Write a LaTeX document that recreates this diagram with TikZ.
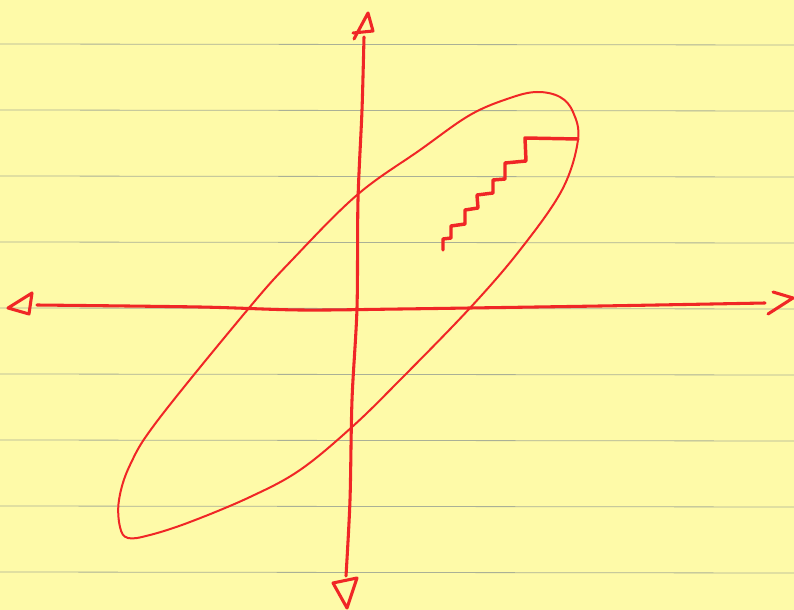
\documentclass[tikz,border=0pt]{standalone}
\definecolor{padyellow}{RGB}{254,250,168}
\definecolor{penred}{RGB}{240,38,38}
\definecolor{ruleline}{RGB}{170,176,150}
\begin{document}
\begin{tikzpicture}[x=0.75pt, y=-0.75pt,
	pen/.style={draw=penred, line cap=round, line join=round},
	axisline/.style={pen, line width=2.3pt},
	loopline/.style={pen, line width=1.5pt},
	stairline/.style={pen, line width=2.6pt},
	ruled/.style={draw=ruleline, line width=0.6pt}]
	\fill[padyellow] (0,0) rectangle (794,610);
	\useasboundingbox (0,0) rectangle (794,610);
	% ruled paper
	\foreach \y in {44,110,...,572} \draw[ruled] (0,\y) -- (794,\y+1);
	% horizontal axis with heads
	\draw[axisline] plot[smooth] coordinates {(37,305) (200,307) (300,310) (400,309) (600,306) (765,303)};
	\draw[axisline] (32,293) -- (8,308) -- (29,314) -- cycle;
	\draw[axisline] (773,292) -- (793,298) -- (768,314);
	% vertical axis with heads
	\draw[axisline] plot[smooth] coordinates {(364,37) (362,110) (358,200) (357,308) (352,400) (350,500) (346,576)};
	\draw[axisline] (354,39) -- (368,13) -- (373,31) -- (353,33);
	\draw[axisline] (333,583) -- (357,578) -- (347,608) -- cycle;
	% loop
	\draw[loopline] plot[smooth cycle, tension=0.6] coordinates {(537,92) (560,97) (573,112) (578,140) (562,190) (520,250) (470,308) (400,380) (352,427) (300,470) (250,497) (190,522) (150,535) (128,538) (120,527) (119,500) (130,465) (158,420) (249,308) (292,260) (357,195) (420,150) (470,115) (510,98)};
	% staircase
	\draw[stairline] (443,250) -- (443,239) -- (451,238) -- (451,226) -- (465,224) -- (465,210) -- (478,208) -- (477,195) -- (493,193) -- (493,180) -- (505,179) -- (505,163) -- (526,161) -- (525,138) -- (578,139);
\end{tikzpicture}
\end{document}
